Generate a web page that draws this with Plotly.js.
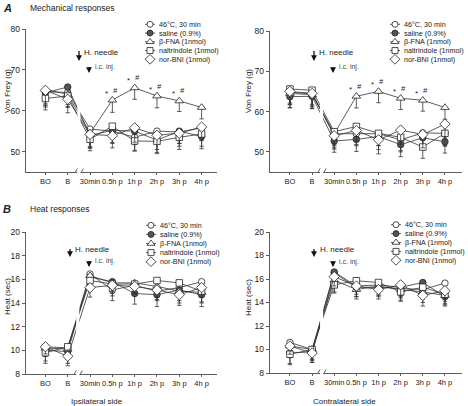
<!DOCTYPE html>
<html><head><meta charset="utf-8">
<script src="https://cdn.plot.ly/plotly-3.0.1.min.js"></script>
<style>html,body{margin:0;padding:0;background:#fff}#chart{width:468px;height:406px}</style>
</head><body><div id="chart"></div>
<script>
// ---------- DATA ----------
const categories = ['BO', 'B', '30min', '0.5h p', '1h p', '2h p', '3h p', '4h p'];
const seriesNames = ['46°C, 30 min', 'saline (0.9%)', 'β-FNA (1nmol)', 'naltrindole (1nmol)', 'nor-BNI (1nmol)'];
const yTicksMech = [50, 60, 70, 80];
const yTicksHeat = [8, 10, 12, 14, 16, 18, 20];
const sigPoints = ['0.5h p', '1h p', '2h p', '3h p'];

// A: mechanical, ipsilateral (Von Frey, g)
const mechIpsi_46C   = [64.6, 64.5, 55.5, 55.0, 53.5, 55.0, 54.8, 55.8];
const mechIpsi_sal   = [64.4, 65.8, 54.0, 55.2, 55.0, 52.8, 55.0, 53.7];
const mechIpsi_bFNA  = [65.2, 64.0, 54.5, 62.6, 65.6, 63.6, 62.4, 60.8];
const mechIpsi_nalt  = [63.0, 63.6, 53.0, 56.2, 52.6, 52.5, 53.5, 54.3];
const mechIpsi_nBNI  = [65.0, 62.8, 54.2, 53.9, 55.8, 54.0, 54.5, 56.0];
const mechIpsiErr_46C  = [3.2, 3.0, 3.0, 3.0, 3.2, 3.0, 2.8, 3.0];
const mechIpsiErr_sal  = [3.5, 3.2, 3.2, 3.0, 3.3, 3.0, 3.0, 3.0];
const mechIpsiErr_bFNA = [3.5, 3.0, 3.5, 3.0, 2.8, 2.9, 2.6, 2.8];
const mechIpsiErr_nalt = [2.8, 2.8, 2.8, 3.0, 2.5, 3.0, 3.0, 3.0];
const mechIpsiErr_nBNI = [3.8, 3.3, 3.0, 3.0, 3.5, 3.5, 3.2, 3.3];

// A: mechanical, contralateral
const mechContra_46C  = [64.8, 64.4, 54.5, 54.5, 54.5, 53.0, 54.7, 54.6];
const mechContra_sal  = [63.7, 63.8, 52.7, 53.1, 53.8, 51.8, 53.5, 52.5];
const mechContra_bFNA = [64.5, 64.2, 54.5, 63.8, 65.0, 63.3, 62.8, 61.0];
const mechContra_nalt = [65.6, 65.3, 55.0, 56.3, 54.6, 53.6, 51.2, 54.6];
const mechContra_nBNI = [65.0, 64.5, 54.0, 55.3, 53.0, 55.4, 54.3, 56.9];
const mechContraErr_46C  = [3.0, 3.0, 3.0, 3.0, 3.0, 3.0, 3.0, 3.0];
const mechContraErr_sal  = [2.8, 3.0, 2.8, 3.0, 3.2, 3.0, 3.0, 2.8];
const mechContraErr_bFNA = [3.5, 3.5, 3.5, 2.9, 2.8, 2.8, 2.7, 2.9];
const mechContraErr_nalt = [3.5, 3.5, 3.2, 3.5, 3.0, 3.3, 2.8, 3.2];
const mechContraErr_nBNI = [3.3, 3.3, 3.3, 3.5, 3.5, 3.5, 3.3, 3.5];

// B: heat, ipsilateral (sec)
const heatIpsi_46C  = [10.3, 10.2, 16.45, 15.1, 15.5, 15.0, 15.3, 15.8];
const heatIpsi_sal  = [10.0, 9.9, 16.2, 15.8, 14.8, 14.7, 15.1, 14.7];
const heatIpsi_bFNA = [10.2, 10.1, 16.3, 15.7, 15.7, 15.4, 15.0, 14.9];
const heatIpsi_nalt = [9.8, 10.3, 15.9, 15.6, 15.6, 15.9, 15.7, 15.0];
const heatIpsi_nBNI = [10.3, 9.5, 15.3, 15.5, 15.4, 15.1, 14.7, 15.3];
const heatIpsiErr_46C  = [0.8, 0.8, 0.6, 0.9, 0.8, 0.8, 0.8, 0.9];
const heatIpsiErr_sal  = [0.9, 1.0, 0.7, 0.8, 0.9, 1.0, 0.9, 1.0];
const heatIpsiErr_bFNA = [0.7, 0.8, 1.0, 0.7, 0.8, 0.9, 1.0, 0.9];
const heatIpsiErr_nalt = [0.9, 0.9, 0.6, 0.8, 0.8, 0.9, 0.9, 0.9];
const heatIpsiErr_nBNI = [0.6, 0.8, 0.8, 0.9, 0.7, 0.8, 0.9, 0.8];

// B: heat, contralateral
const heatContra_46C  = [10.6, 10.0, 16.5, 15.3, 15.3, 15.2, 15.1, 15.65];
const heatContra_sal  = [9.7, 9.8, 16.6, 15.4, 15.5, 15.3, 15.7, 14.5];
const heatContra_bFNA = [10.3, 10.0, 15.9, 15.1, 15.4, 15.1, 14.9, 14.6];
const heatContra_nalt = [9.6, 10.0, 15.5, 15.85, 15.7, 14.9, 15.3, 14.7];
const heatContra_nBNI = [10.3, 9.7, 16.2, 15.4, 15.1, 15.5, 14.6, 15.0];
const heatContraErr_46C  = [0.8, 0.8, 0.7, 0.8, 0.8, 0.8, 0.8, 0.9];
const heatContraErr_sal  = [0.9, 0.9, 0.6, 0.7, 0.8, 0.8, 0.9, 0.8];
const heatContraErr_bFNA = [1.0, 0.9, 1.0, 0.8, 0.8, 0.9, 0.9, 0.8];
const heatContraErr_nalt = [0.9, 0.9, 0.7, 0.8, 0.8, 0.8, 0.8, 0.8];
const heatContraErr_nBNI = [0.7, 0.8, 0.8, 0.9, 0.8, 0.9, 0.9, 0.9];

// ---------- STYLE / LAYOUT ----------
const W = 468, H = 406;
const px = x => x / W;
const py = y => 1 - y / H;
const FONT = 'Liberation Sans, Arial, Helvetica, sans-serif';
const INK = '#222';
const LINE = '#333';

const markerStyles = [
  {symbol: 'circle', size: 6.5, color: '#ffffff'},
  {symbol: 'circle', size: 6.5, color: '#555555'},
  {symbol: 'triangle-up', size: 7.5, color: '#ffffff'},
  {symbol: 'square', size: 6.5, color: '#ffffff'},
  {symbol: 'diamond', size: 8, color: '#ffffff'}
];

const panels = [
  {xa: 'x',  ya: 'y',  means: [mechIpsi_46C, mechIpsi_sal, mechIpsi_bFNA, mechIpsi_nalt, mechIpsi_nBNI],
   errs: [mechIpsiErr_46C, mechIpsiErr_sal, mechIpsiErr_bFNA, mechIpsiErr_nalt, mechIpsiErr_nBNI],
   xdom: [26, 217], xr: [-0.87, 7.69], ydom: [172, 29], yr: [45, 80], ticks: yTicksMech, brk: 1.5,
   sig: true, legX: [145, 155], legTextX: 157, legY0: 24.3, legDy: 8.75},
  {xa: 'x2', ya: 'y2', means: [mechContra_46C, mechContra_sal, mechContra_bFNA, mechContra_nalt, mechContra_nBNI],
   errs: [mechContraErr_46C, mechContraErr_sal, mechContraErr_bFNA, mechContraErr_nalt, mechContraErr_nBNI],
   xdom: [270, 462], xr: [-0.9, 7.77], ydom: [172, 31], yr: [45, 80], ticks: yTicksMech, brk: 1.43,
   sig: true, legX: [390, 400], legTextX: 402, legY0: 24.3, legDy: 8.75},
  {xa: 'x3', ya: 'y3', means: [heatIpsi_46C, heatIpsi_sal, heatIpsi_bFNA, heatIpsi_nalt, heatIpsi_nBNI],
   errs: [heatIpsiErr_46C, heatIpsiErr_sal, heatIpsiErr_bFNA, heatIpsiErr_nalt, heatIpsiErr_nBNI],
   xdom: [26, 217], xr: [-0.87, 7.69], ydom: [374, 232], yr: [8, 20], ticks: yTicksHeat, brk: 1.45,
   sig: false, legX: [146, 156], legTextX: 158, legY0: 225.3, legDy: 9.1},
  {xa: 'x4', ya: 'y4', means: [heatContra_46C, heatContra_sal, heatContra_bFNA, heatContra_nalt, heatContra_nBNI],
   errs: [heatContraErr_46C, heatContraErr_sal, heatContraErr_bFNA, heatContraErr_nalt, heatContraErr_nBNI],
   xdom: [270, 462], xr: [-0.9, 7.77], ydom: [373, 232], yr: [8, 20], ticks: yTicksHeat, brk: 1.43,
   sig: false, legX: [391, 401], legTextX: 403, legY0: 224.7, legDy: 8.9}
];

const traces = [];
const annotations = [];
const shapes = [];
const layout = {
  width: W, height: H,
  margin: {l: 0, r: 0, t: 0, b: 0},
  paper_bgcolor: '#ffffff', plot_bgcolor: 'rgba(0,0,0,0)',
  showlegend: false,
  font: {family: FONT, size: 8, color: INK}
};

panels.forEach((p, k) => {
  const xn = k === 0 ? 'xaxis' : 'xaxis' + (k + 1);
  const yn = k === 0 ? 'yaxis' : 'yaxis' + (k + 1);
  layout[xn] = {
    type: 'category', categoryorder: 'array', categoryarray: categories,
    domain: [px(p.xdom[0]), px(p.xdom[1])], range: p.xr, anchor: p.ya,
    showline: true, linecolor: LINE, linewidth: 0.8, showgrid: false, zeroline: false,
    ticks: 'outside', ticklen: 2, tickwidth: 0.8, tickcolor: LINE, tickangle: 0,
    tickfont: {family: FONT, size: 7.5, color: INK}, fixedrange: true
  };
  layout[yn] = {
    domain: [py(p.ydom[0]), py(p.ydom[1])], range: p.yr, anchor: p.xa,
    showline: true, linecolor: LINE, linewidth: 0.8, showgrid: false, zeroline: false,
    tickvals: p.ticks, ticks: 'outside', ticklen: 3.5, tickwidth: 0.8, tickcolor: LINE,
    tickfont: {family: FONT, size: 8.5, color: INK}, fixedrange: true
  };

  p.means.forEach((m, s) => {
    const ms = markerStyles[s];
    traces.push({
      type: 'scatter', mode: 'lines+markers', name: seriesNames[s],
      x: categories, y: m, xaxis: p.xa, yaxis: p.ya, cliponaxis: false,
      line: {color: LINE, width: 0.8},
      marker: {symbol: ms.symbol, size: ms.size, color: ms.color, line: {color: INK, width: 0.8}},
      error_y: {type: 'data', symmetric: false, array: m.map(() => 0), arrayminus: p.errs[s],
                color: LINE, thickness: 0.8, width: 2.2}
    });
  });

  // significance marks above β-FNA
  if (p.sig) {
    const b = p.means[2];
    sigPoints.forEach(c => {
      const i = categories.indexOf(c);
      annotations.push({xref: p.xa, yref: p.ya, x: c, y: b[i], text: '*', showarrow: false,
        xshift: -6, yshift: 7, font: {size: 8, color: INK}});
      annotations.push({xref: p.xa, yref: p.ya, x: c, y: b[i], text: '<i>#</i>', showarrow: false,
        xshift: 3, yshift: 10, font: {size: 7.5, color: INK}});
    });
  }

  // axis break: white gap + two slashes
  shapes.push({type: 'rect', xref: p.xa, yref: p.ya + ' domain', x0: p.brk - 0.07, x1: p.brk + 0.07,
    y0: -0.03, y1: 0.75, fillcolor: '#ffffff', line: {width: 0}, layer: 'above'});
  [[-5.5, -1.5], [0.5, 4.5]].forEach(([a, b2]) => {
    shapes.push({type: 'line', xref: p.xa, yref: p.ya, xsizemode: 'pixel', ysizemode: 'pixel',
      xanchor: p.brk, yanchor: p.yr[0], x0: a, x1: b2, y0: -3.5, y1: 3.5,
      line: {color: LINE, width: 0.8}, layer: 'above'});
  });
});

// legend overlay axis in pixel units
layout.xaxis5 = {domain: [0, 1], range: [0, W], visible: false, fixedrange: true, anchor: 'y5'};
layout.yaxis5 = {domain: [0, 1], range: [H, 0], visible: false, fixedrange: true, anchor: 'x5'};
const legLineX = [], legLineY = [];
panels.forEach(p => {
  seriesNames.forEach((nm, s) => {
    const yy = p.legY0 + s * p.legDy;
    legLineX.push(p.legX[0], p.legX[1], null);
    legLineY.push(yy, yy, null);
    annotations.push({xref: 'paper', yref: 'paper', x: px(p.legTextX), y: py(yy), text: nm,
      showarrow: false, xanchor: 'left', yanchor: 'middle', font: {size: 7.2, color: INK}});
  });
});
traces.push({type: 'scatter', mode: 'lines', x: legLineX, y: legLineY, xaxis: 'x5', yaxis: 'y5',
  line: {color: LINE, width: 0.8}, hoverinfo: 'skip', connectgaps: false});
seriesNames.forEach((nm, s) => {
  const ms = markerStyles[s];
  traces.push({type: 'scatter', mode: 'markers', xaxis: 'x5', yaxis: 'y5', hoverinfo: 'skip',
    x: panels.map(p => (p.legX[0] + p.legX[1]) / 2),
    y: panels.map(p => p.legY0 + s * p.legDy),
    marker: {symbol: ms.symbol, size: ms.size - 0.5, color: ms.color, line: {color: INK, width: 0.8}}});
});

// arrows and labels
function arrow(x, yHead, len) {
  annotations.push({xref: 'paper', yref: 'paper', x: px(x), y: py(yHead), ax: 0, ay: -len,
    text: ' ', font: {size: 1}, showarrow: true, arrowhead: 2, arrowsize: 0.9, arrowwidth: 1.3, arrowcolor: '#111'});
}
function label(x, y, t, size, color, anchor) {
  annotations.push({xref: 'paper', yref: 'paper', x: px(x), y: py(y), text: t, showarrow: false,
    xanchor: anchor || 'left', yanchor: 'middle', font: {size: size, color: color || INK}});
}
arrow(79, 61, 12);  label(82, 52, 'H. needle', 8);
arrow(89, 73, 8);   label(93, 67, 'i.c. inj.', 7, '#444');
arrow(314, 61, 12); label(317, 52, 'H. needle', 8);
arrow(333, 73, 8);  label(337, 67, 'i.c. inj.', 7, '#444');
arrow(70, 257, 10); label(73, 249, 'H. needle', 8);
arrow(89, 267, 8);  label(93, 261, 'i.c. inj.', 7, '#444');
arrow(314, 257, 10); label(318, 249, 'H. needle', 8);
arrow(333, 267, 8); label(337, 262, 'i.c. inj.', 7, '#444');

// panel titles
label(1, 8, '<b><i>A</i></b>', 11);
label(28, 8, 'Mechanical responses', 8.5);
label(1, 209, '<b><i>B</i></b>', 11);
label(28, 209, 'Heat responses', 8.5);

// axis titles
function vtitle(x, y, t) {
  annotations.push({xref: 'paper', yref: 'paper', x: px(x), y: py(y), text: t, showarrow: false,
    textangle: -90, xanchor: 'center', yanchor: 'middle', font: {size: 8, color: INK}});
}
vtitle(7, 91, 'Von Frey (g)');
vtitle(248, 91, 'Von Frey (g)');
vtitle(7, 297, 'Heat (sec)');
vtitle(248, 298, 'Heat (sec)');
label(97, 401, 'Ipsilateral side', 8, INK, 'center');
label(344, 401, 'Contralateral side', 8, INK, 'center');

layout.annotations = annotations;
layout.shapes = shapes;

Plotly.newPlot('chart', traces, layout, {staticPlot: true, displayModeBar: false});
</script>
</body></html>
